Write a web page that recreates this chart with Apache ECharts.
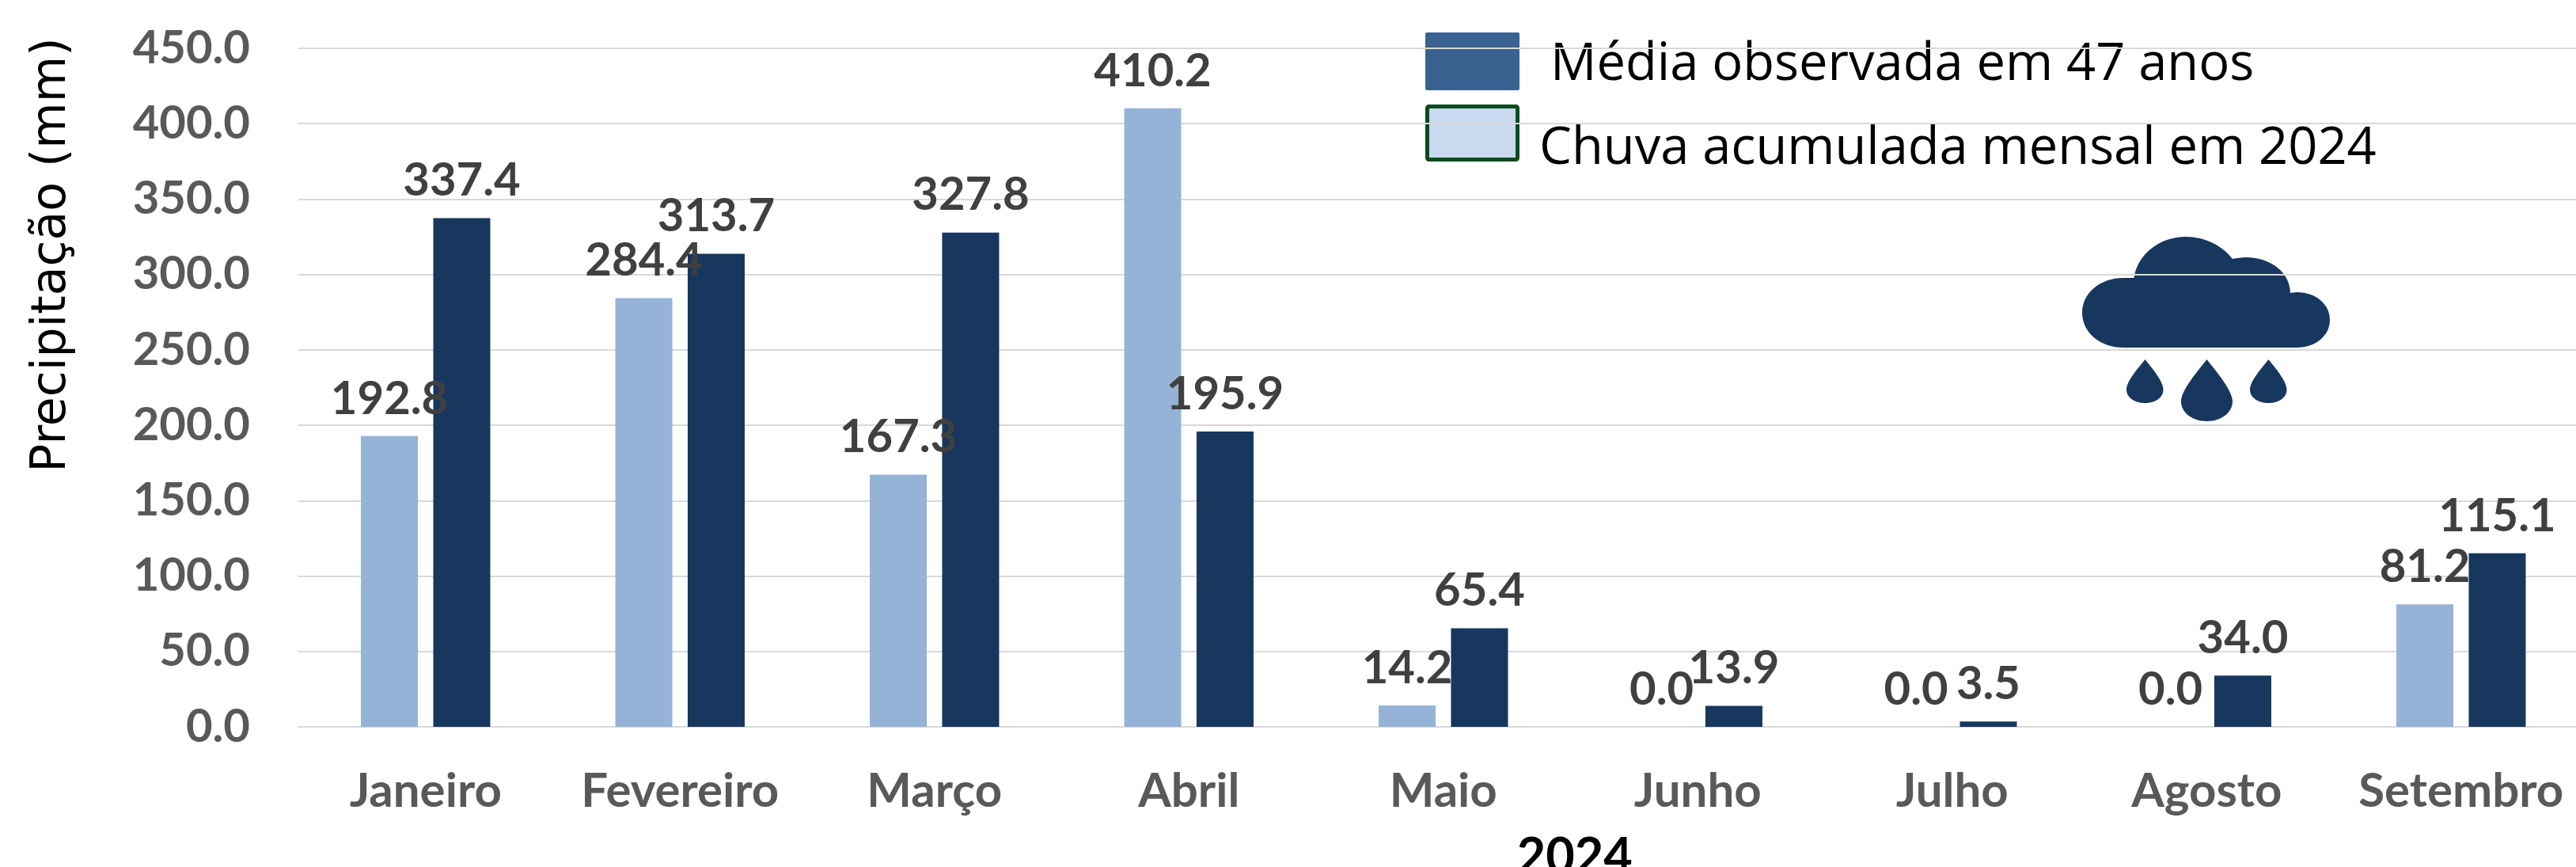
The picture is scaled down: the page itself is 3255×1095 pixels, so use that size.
<!DOCTYPE html>
<html>
<head>
<meta charset="utf-8">
<style>
  html, body { margin: 0; padding: 0; background: #fff; overflow: hidden; }
  #chart { width: 3255px; height: 1095px; }
</style>
<script src="https://cdn.jsdelivr.net/npm/echarts@6/dist/echarts.min.js"></script>
</head>
<body>
<div id="chart"></div>
<script>
const months = ['Janeiro', 'Fevereiro', 'Março', 'Abril', 'Maio', 'Junho', 'Julho', 'Agosto', 'Setembro'];
const chuva2024 = [192.8, 284.4, 167.3, 410.2, 14.2, 0.0, 0.0, 0.0, 81.2];
const media47 = [337.4, 313.7, 327.8, 195.9, 65.4, 13.9, 3.5, 34.0, 115.1];

const nomeChuva = 'Chuva acumulada mensal em 2024';
const nomeMedia = 'Média observada em 47 anos';

// nuvem + gotas, fica atras das linhas de grade
const cloudPath =
  'M2683 439 C2654 439 2631 420 2631 395 C2631 370 2654 351 2683 351 L2696.5 351 ' +
  'C2701 320 2730 299 2762 299 C2786 299 2808 310 2821 327 C2826 326 2832 325 2838 325 ' +
  'C2870 325 2894 345 2894 370 L2902 369 C2926 369 2944 384 2944 404 C2944 424 2926 439 2902 439 Z ' +
  'M2710.5 454 C2700 467 2687 482 2687 492 C2687 502 2697 509 2710.5 509 C2724 509 2733.5 502 2733.5 492 C2733.5 482 2721 467 2710.5 454 Z ' +
  'M2788.5 454 C2774 472 2756 494 2756 507 C2756 521 2770 532 2788.5 532 C2807 532 2821 521 2821 507 C2821 494 2803 472 2788.5 454 Z ' +
  'M2866.5 454 C2856 467 2843 482 2843 492 C2843 502 2853 509 2866.5 509 C2880 509 2889.5 502 2889.5 492 C2889.5 482 2877 467 2866.5 454 Z';

echarts.graphic.registerShape('cloud', echarts.graphic.extendPath(cloudPath, {}));

const labelBold = {
  show: true,
  position: 'top',
  distance: 18,
  fontFamily: 'Lato',
  fontWeight: 'bold',
  fontSize: 58,
  color: '#404040',
  formatter: (p) => p.value.toFixed(1)
};

const chart = echarts.init(document.getElementById('chart'));
chart.setOption({
  animation: false,
  backgroundColor: '#fff',
  grid: { left: 377, top: 61, width: 2893.5, height: 857, containLabel: false, outerBoundsMode: 'none' },
  // os quadrados da legenda ficam no graphic, o texto desce mais que o simbolo no original
  legend: [
    {
      data: [nomeMedia],
      left: 1801, top: 41, z: -1,
      itemWidth: 119, itemHeight: 73,
      selectedMode: false,
      itemStyle: { opacity: 0 },
      textStyle: { fontFamily: 'Open Sans', fontSize: 65, color: '#000', padding: [0, 0, 0, 29] }
    },
    {
      data: [nomeChuva],
      left: 1801, top: 147, z: -1,
      itemWidth: 119, itemHeight: 73,
      selectedMode: false,
      itemStyle: { opacity: 0 },
      textStyle: { fontFamily: 'Open Sans', fontSize: 65, color: '#000', padding: [0, 0, 0, 15] }
    }
  ],
  graphic: {
    elements: [
      { type: 'cloud', z: -1, style: { fill: '#17375E' } },
      {
        type: 'rect', z: -1,
        shape: { x: 1801, y: 41, width: 119, height: 73, r: 2 },
        style: { fill: '#3A6291' }
      },
      {
        type: 'rect', z: -1,
        shape: { x: 1803.5, y: 134.5, width: 114, height: 67, r: 2 },
        style: { fill: '#C9D9EF', stroke: '#0B4A1F', lineWidth: 5 }
      }
    ]
  },
  xAxis: {
    type: 'category',
    data: months,
    name: '2024',
    nameLocation: 'middle',
    nameGap: 133,
    nameTextStyle: { fontFamily: 'Lato', fontWeight: 'bold', fontSize: 63, color: '#000', padding: [0, 0, 0, 332] },
    axisTick: { show: false },
    axisLine: { lineStyle: { color: '#D9D9D9', width: 2 } },
    axisLabel: { interval: 0, fontFamily: 'Lato', fontWeight: 'bold', fontSize: 60, color: '#595959', margin: 52 }
  },
  yAxis: {
    type: 'value',
    min: 0,
    max: 450,
    interval: 50,
    name: 'Precipitação (mm)',
    nameLocation: 'middle',
    nameRotate: 90,
    nameGap: 281,
    nameTextStyle: { fontFamily: 'DejaVu Sans', fontSize: 60, color: '#000', padding: [0, 0, 0, 335] },
    axisLine: { show: false },
    axisTick: { show: false },
    splitLine: { lineStyle: { color: '#D9D9D9', width: 2 } },
    axisLabel: {
      fontFamily: 'Lato', fontWeight: 'bold', fontSize: 58, color: '#595959', margin: 61,
      formatter: (v) => v.toFixed(1)
    }
  },
  series: [
    {
      name: nomeChuva,
      type: 'bar',
      data: chuva2024,
      barWidth: 72,
      barGap: '27%',
      itemStyle: { color: '#95B3D7' },
      label: labelBold,
      z: 3
    },
    {
      name: nomeMedia,
      type: 'bar',
      data: media47,
      barWidth: 72,
      itemStyle: { color: '#17375E' },
      label: labelBold,
      z: 3
    }
  ]
});
</script>
</body>
</html>
